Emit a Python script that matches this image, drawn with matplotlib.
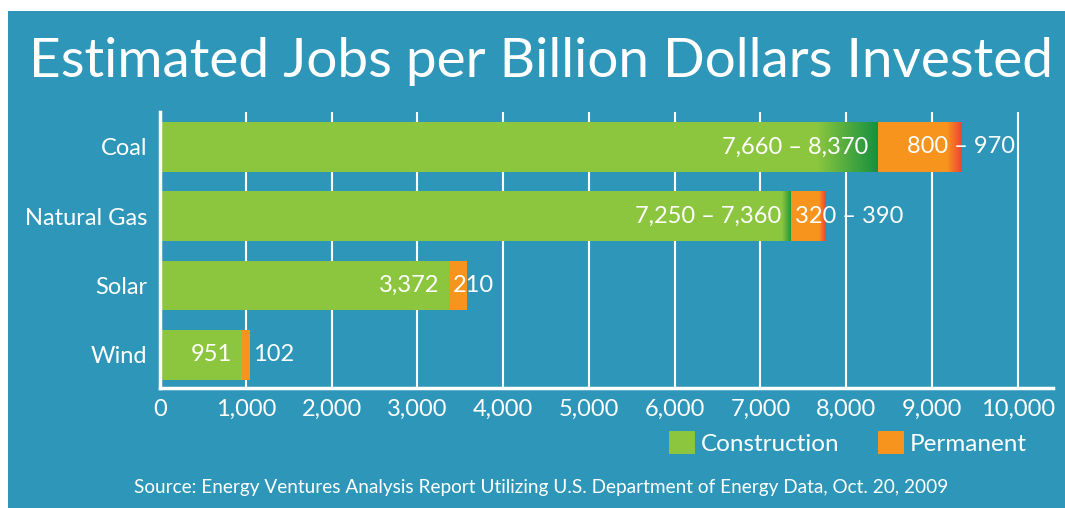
import numpy as np
import matplotlib
matplotlib.use("Agg")
import matplotlib.pyplot as plt
from matplotlib.colors import LinearSegmentedColormap
from matplotlib.patches import Rectangle, Patch

plt.rcParams['font.family'] = ['Lato', 'DejaVu Sans']

categories = ["Coal", "Natural Gas", "Solar", "Wind"]
constr_low = [7660, 7250, 3372, 951]
constr_high = [8370, 7360, 3372, 951]
perm_low = [800, 320, 210, 102]
perm_high = [970, 390, 210, 102]
xticks = [0, 1000, 2000, 3000, 4000, 5000, 6000, 7000, 8000, 9000, 10000]

BLUE = "#2e97b9"
GREEN = "#8cc63f"
DKGREEN = "#15903f"
ORANGE = "#f7941d"
RED = "#ee4136"
W, H = 1065, 508

fig = plt.figure(figsize=(W / 100, H / 100), dpi=100, facecolor="white")
fig.patches.append(Rectangle((8 / W, 0), 1, 1 - 11 / H, transform=fig.transFigure,
                             facecolor=BLUE, edgecolor="none", zorder=-10))

ax = fig.add_axes([160 / W, 1 - 388 / H, 893 / W, 276 / H])
ax.set_facecolor("none")

green_grad = LinearSegmentedColormap.from_list("gg", [GREEN, DKGREEN])
red_grad = LinearSegmentedColormap.from_list("rg", [ORANGE, RED])
ramp = np.linspace(0, 1, 256).reshape(1, -1)

n = len(categories)
ypos = np.arange(n)[::-1]
bh = 0.72
# pixel offset of the permanent label from the start of the orange part
perm_shift = [29, 4, 4, 11]

for i in range(n):
    y = ypos[i]
    ax.barh(y, constr_low[i], height=bh, color=GREEN, zorder=2)
    if constr_high[i] > constr_low[i]:
        ax.imshow(ramp, cmap=green_grad, aspect="auto", zorder=2,
                  extent=[constr_low[i], constr_high[i], y - bh / 2, y + bh / 2])
    p0 = constr_high[i]
    ax.barh(y, perm_low[i], left=p0, height=bh, color=ORANGE, zorder=2)
    if perm_high[i] > perm_low[i]:
        ax.imshow(ramp, cmap=red_grad, aspect="auto", zorder=2,
                  extent=[p0 + perm_low[i], p0 + perm_high[i], y - bh / 2, y + bh / 2])

    if constr_high[i] > constr_low[i]:
        ctxt = f"{constr_low[i]:,} \u2013 {constr_high[i]:,}"
        ptxt = f"{perm_low[i]:,} \u2013 {perm_high[i]:,}"
    else:
        ctxt = f"{constr_low[i]:,}"
        ptxt = f"{perm_low[i]:,}"
    ax.annotate(ctxt, (constr_high[i], y), xytext=(-10, 0), textcoords="offset pixels",
                ha="right", va="center", color="white", fontsize=17, zorder=4)
    ax.annotate(ptxt, (p0, y), xytext=(perm_shift[i], 0), textcoords="offset pixels",
                ha="left", va="center", color="white", fontsize=17, zorder=4)

ax.set_xlim(0, 10410)
ax.set_ylim(-0.48, n - 1 + 0.505)
ax.set_xticks(xticks)
ax.set_xticklabels([f"{v:,}" for v in xticks])
ax.set_yticks(ypos)
ax.set_yticklabels(categories)
ax.tick_params(axis="x", length=0, pad=8, colors="white", labelsize=17)
ax.tick_params(axis="y", length=0, pad=9, colors="white", labelsize=17)
ax.grid(axis="x", color="white", linewidth=1.5, zorder=1)
ax.set_axisbelow(True)
for s in ["top", "right"]:
    ax.spines[s].set_visible(False)
ax.spines["left"].set_color("white")
ax.spines["left"].set_linewidth(2.5)
ax.spines["bottom"].set_color("white")
ax.spines["bottom"].set_linewidth(2.5)

fig.text(541 / W, 1 - 77 / H, "Estimated Jobs per Billion Dollars Invested",
         ha="center", va="baseline", color="white", fontsize=39.5)

handles = [Patch(facecolor=GREEN, label="Construction"),
           Patch(facecolor=ORANGE, label="Permanent")]
fig.legend(handles=handles, loc="center", bbox_to_anchor=(848 / W, 1 - 443 / H),
           ncol=2, frameon=False, fontsize=17.5, labelcolor="white",
           handlelength=1.05, handleheight=1.05, handletextpad=0.25,
           columnspacing=1.6, borderpad=0, borderaxespad=0)

fig.text(541 / W, 1 - 493 / H,
         "Source: Energy Ventures Analysis Report Utilizing U.S. Department of Energy Data, Oct. 20, 2009",
         ha="center", va="baseline", color="white", fontsize=13.7)

fig.savefig("out.png", dpi=100, facecolor="white")
